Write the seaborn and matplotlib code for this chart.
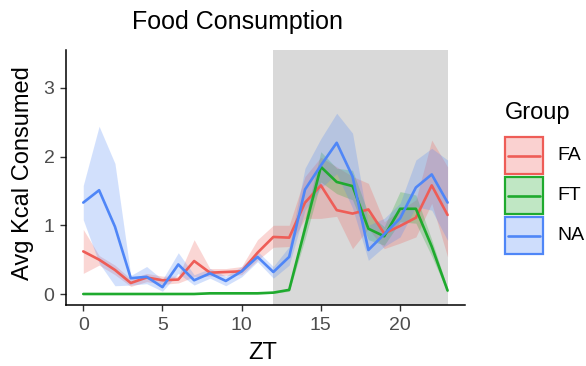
import numpy as np
import pandas as pd
import matplotlib
matplotlib.use("Agg")
import matplotlib.pyplot as plt
from matplotlib.patches import Rectangle
from matplotlib.lines import Line2D
import seaborn as sns

# ---------------- data ----------------
zt = list(range(24))
groups = ["FA", "FT", "NA"]

fa_mean = [0.62, 0.50, 0.35, 0.16, 0.24, 0.20, 0.21, 0.48, 0.31, 0.32, 0.33, 0.60,
           0.83, 0.82, 1.33, 1.58, 1.22, 1.17, 1.23, 0.88, 0.99, 1.11, 1.58, 1.15]
fa_low = [0.30, 0.42, 0.28, 0.11, 0.18, 0.14, 0.16, 0.25, 0.26, 0.27, 0.28, 0.49,
          0.68, 0.69, 1.10, 1.10, 1.13, 0.66, 0.95, 0.66, 0.74, 0.83, 1.32, 0.54]
fa_high = [0.94, 0.56, 0.42, 0.22, 0.30, 0.26, 0.26, 0.79, 0.37, 0.37, 0.40, 0.79,
           1.00, 1.00, 1.71, 1.99, 1.85, 1.71, 1.61, 1.05, 1.22, 1.37, 2.24, 1.85]

ft_mean = [0.00, 0.00, 0.00, 0.00, 0.00, 0.00, 0.00, 0.00, 0.01, 0.01, 0.01, 0.01,
           0.02, 0.06, 0.95, 1.85, 1.63, 1.57, 0.95, 0.84, 1.24, 1.24, 0.69, 0.05]
ft_low = [0.00, 0.00, 0.00, 0.00, 0.00, 0.00, 0.00, 0.00, 0.00, 0.00, 0.00, 0.00,
          0.01, 0.04, 0.80, 1.63, 1.46, 1.37, 0.79, 0.71, 1.05, 1.03, 0.55, 0.02]
ft_high = [0.01, 0.01, 0.01, 0.01, 0.01, 0.01, 0.01, 0.01, 0.02, 0.02, 0.02, 0.02,
           0.03, 0.08, 1.10, 2.07, 1.83, 1.80, 1.17, 0.98, 1.49, 1.44, 0.79, 0.08]

na_mean = [1.33, 1.51, 0.98, 0.23, 0.25, 0.10, 0.43, 0.20, 0.30, 0.19, 0.33, 0.54,
           0.32, 0.54, 1.52, 1.87, 2.20, 1.71, 0.64, 0.87, 1.10, 1.55, 1.74, 1.33]
na_low = [1.08, 0.45, 0.12, 0.13, 0.15, 0.04, 0.30, 0.13, 0.23, 0.12, 0.25, 0.47,
          0.23, 0.42, 1.22, 1.54, 1.75, 1.25, 0.49, 0.69, 0.83, 1.27, 1.22, 0.78]
na_high = [1.58, 2.44, 1.90, 0.27, 0.40, 0.21, 0.60, 0.28, 0.37, 0.26, 0.40, 0.62,
           0.40, 0.69, 1.83, 2.26, 2.63, 2.34, 1.00, 1.10, 1.32, 1.95, 2.12, 1.95]

dark_start, dark_end = 12, 23
x_ticks = [0, 5, 10, 15, 20]
y_ticks = [0, 1, 2, 3]

colors = {"FA": "#EE5D57", "FT": "#1FAA2E", "NA": "#4F86F7"}

# --------------- build table ---------------
means = {"FA": fa_mean, "FT": ft_mean, "NA": na_mean}
lows = {"FA": fa_low, "FT": ft_low, "NA": na_low}
highs = {"FA": fa_high, "FT": ft_high, "NA": na_high}
df = pd.concat([
    pd.DataFrame({"ZT": zt, "Kcal": means[g], "low": lows[g], "high": highs[g], "Group": g})
    for g in groups
], ignore_index=True)

# --------------- plot ---------------
sns.set_theme(style="white")
plt.rcParams["font.family"] = ["Liberation Sans", "DejaVu Sans"]

W, H = 586, 366
fig = plt.figure(figsize=(W / 100, H / 100), dpi=100)
ax_left, ax_right, ax_top, ax_bottom = 66, 465, 50, 305
ax = fig.add_axes([ax_left / W, 1 - ax_bottom / H,
                   (ax_right - ax_left) / W, (ax_bottom - ax_top) / H])

ax.axvspan(dark_start, dark_end, color="#D9D9D9", lw=0, zorder=0)

for g in groups:
    sub = df[df["Group"] == g]
    ax.fill_between(sub["ZT"], sub["low"], sub["high"], color=colors[g],
                    alpha=0.25, lw=0, zorder=1)

sns.lineplot(data=df, x="ZT", y="Kcal", hue="Group", palette=colors,
             hue_order=groups, errorbar=None, linewidth=1.9, ax=ax,
             legend=False, zorder=2)

ax.set_xlim(-1.09, 24.1)
ax.set_ylim(-0.16, 3.55)
ax.set_xticks(x_ticks)
ax.set_yticks(y_ticks)
ax.tick_params(axis="both", which="both", direction="out", length=4.3, width=1.0,
               color="#333333", labelsize=14, labelcolor="#4D4D4D", pad=4,
               bottom=True, left=True)
for s in ["top", "right"]:
    ax.spines[s].set_visible(False)
for s in ["left", "bottom"]:
    ax.spines[s].set_color("black")
    ax.spines[s].set_linewidth(1.1)
ax.grid(False)
ax.set_facecolor("white")

ax.set_xlabel("ZT", fontsize=17, color="black")
ax.set_ylabel("Avg Kcal Consumed", fontsize=17, color="black")
ax.xaxis.set_label_coords((263 - ax_left) / (ax_right - ax_left),
                          (ax_bottom - 353) / (ax_bottom - ax_top))
ax.xaxis.label.set_va("center")
ax.yaxis.set_label_coords((23 - ax_left) / (ax_right - ax_left),
                          (ax_bottom - 173) / (ax_bottom - ax_top))
ax.yaxis.label.set_va("center")

fig.text(237 / W, 1 - 22 / H, "Food Consumption", ha="center", va="center",
         fontsize=18, color="black")

# --------------- legend (ggplot style keys) ---------------
lax = fig.add_axes([0, 0, 1, 1], facecolor="none")
lax.set_xlim(0, W)
lax.set_ylim(H, 0)
lax.axis("off")
lax.text(505, 113, "Group", fontsize=17, ha="left", va="center", color="black")
key_tops = [137, 177, 217]
for g, top in zip(groups, key_tops):
    c = colors[g]
    lax.add_patch(Rectangle((505, top), 38, 37, facecolor=matplotlib.colors.to_rgba(c, 0.28),
                            edgecolor=c, lw=1.6))
    lax.add_line(Line2D([508, 540], [top + 18.5, top + 18.5], color=c, lw=1.9))
    lax.text(557, top + 19, g, fontsize=14, ha="left", va="center", color="black")

fig.savefig("out.png", dpi=100, facecolor="white")
